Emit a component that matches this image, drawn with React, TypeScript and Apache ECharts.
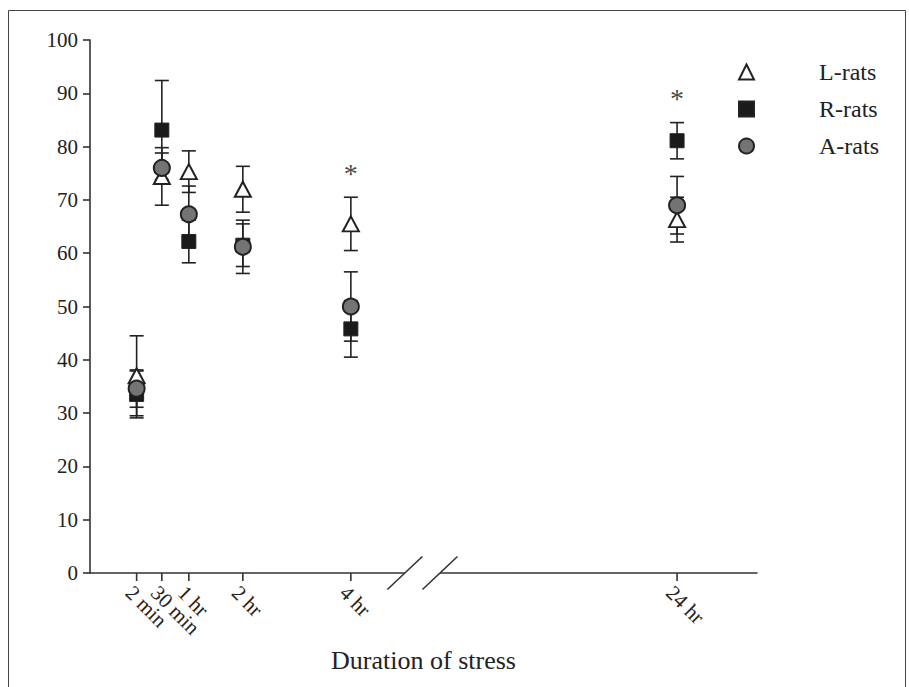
import React, { useEffect, useRef } from "react";
import * as echarts from "echarts";

// ---- data ----
const timeLabels = ["2 min", "30 min", "1 hr", "2 hr", "4 hr", "24 hr"];
const hours = [2 / 60, 0.5, 1, 2, 4, 24];

const lMean = [37, 74.4, 75.3, 72, 65.5, 66.3];
const lErr = [7.5, 5.4, 3.9, 4.3, 5, 4.2];
const rMean = [33.5, 83.1, 62.2, 61.5, 45.8, 81.1];
const rErr = [4.4, 9.3, 4, 4, 5.3, 3.4];
const aMean = [34.6, 76, 67.3, 61.2, 50, 69];
const aErr = [3.5, 2.8, 5.3, 5, 6.5, 5.4];

// significance markers (index into hours, height)
const sigIndex = [4, 5];
const sigHeight = [75, 89];

const yTicks = { min: 0, max: 100, interval: 10 };

// broken axis: time after the break is compressed
const BREAK_AT = 4;
const COMPRESS = 0.302;
const pos = (h: number) => (h <= BREAK_AT ? h : BREAK_AT + (h - BREAK_AT) * COMPRESS);
const GAP_START = 5.0;
const GAP_END = 5.65;

const FONT = "'Liberation Serif', 'Times New Roman', serif";
const INK = "#222";

function errSeries(name: string, mean: number[], err: number[]) {
  return {
    name: name + " err",
    type: "custom",
    z: 2,
    silent: true,
    data: hours.map((h, i) => [pos(h), mean[i], err[i]]),
    renderItem: (params: any, api: any) => {
      const x = api.value(0);
      const y = api.value(1);
      const e = api.value(2);
      const top = api.coord([x, y + e]);
      const bot = api.coord([x, y - e]);
      const hw = 7;
      const style = { stroke: INK, lineWidth: 1.6 };
      return {
        type: "group",
        children: [
          { type: "line", shape: { x1: top[0], y1: top[1], x2: bot[0], y2: bot[1] }, style },
          { type: "line", shape: { x1: top[0] - hw, y1: top[1], x2: top[0] + hw, y2: top[1] }, style },
          { type: "line", shape: { x1: bot[0] - hw, y1: bot[1], x2: bot[0] + hw, y2: bot[1] }, style },
        ],
      };
    },
  };
}

export default function App() {
  const ref = useRef<HTMLDivElement>(null);
  useEffect(() => {
    if (!ref.current) return;
    const chart = echarts.init(ref.current, null, { renderer: "svg" });
    const tickVals = hours.map(pos);
    chart.setOption({
      animation: false,
      backgroundColor: "#fff",
      textStyle: { fontFamily: FONT, color: INK },
      grid: { left: 90, right: 152, top: 40, bottom: 114 },
      legend: {
        orient: "vertical",
        left: 738,
        top: 60,
        padding: 0,
        itemWidth: 15,
        itemHeight: 15,
        itemGap: 13,
        data: ["L-rats", "R-rats", "A-rats"],
        textStyle: { fontFamily: FONT, fontSize: 24, color: INK, padding: [0, 0, 0, 60] },
      },
      xAxis: {
        type: "value",
        min: -0.83,
        max: 11.52,
        splitLine: { show: false },
        axisLine: { show: true, onZero: false, lineStyle: { color: "#333", width: 1.6 } },
        axisTick: { show: false },
        axisLabel: { show: false },
        name: "Duration of stress",
        nameLocation: "middle",
        nameGap: 74,
        nameTextStyle: { fontFamily: FONT, fontSize: 26, color: INK },
      },
      yAxis: {
        type: "value",
        min: yTicks.min,
        max: yTicks.max,
        interval: yTicks.interval,
        splitLine: { show: false },
        axisLine: { show: true, onZero: false, lineStyle: { color: "#333", width: 1.6 } },
        axisTick: { show: true, length: 7, lineStyle: { color: "#333", width: 1.6 } },
        axisLabel: { margin: 12, fontFamily: FONT, fontSize: 21, color: INK, showMinLabel: true, showMaxLabel: true },
      },
      series: [
        errSeries("L-rats", lMean, lErr),
        errSeries("R-rats", rMean, rErr),
        errSeries("A-rats", aMean, aErr),
        {
          name: "L-rats",
          type: "scatter",
          z: 3,
          symbol: "triangle",
          symbolSize: [16, 15],
          itemStyle: { color: "#fff", borderColor: INK, borderWidth: 2, opacity: 1 },
          data: hours.map((h, i) => [pos(h), lMean[i]]),
        },
        {
          name: "R-rats",
          type: "scatter",
          z: 4,
          symbol: "rect",
          symbolSize: 14,
          itemStyle: { color: "#1a1a1a", borderColor: INK, borderWidth: 1, opacity: 1 },
          data: hours.map((h, i) => [pos(h), rMean[i]]),
        },
        {
          name: "A-rats",
          type: "scatter",
          z: 5,
          symbol: "circle",
          symbolSize: 16,
          itemStyle: { color: "#747474", borderColor: INK, borderWidth: 2, opacity: 1 },
          data: hours.map((h, i) => [pos(h), aMean[i]]),
        },
        {
          name: "sig",
          type: "scatter",
          z: 6,
          symbolSize: 0,
          silent: true,
          label: {
            show: true,
            position: "inside",
            formatter: "*",
            fontFamily: FONT,
            fontSize: 28,
            color: "#111",
          },
          data: sigIndex.map((idx, i) => [pos(hours[idx]), sigHeight[i]]),
        },
      ],
    });

    // x ticks + rotated labels, axis-break decoration and outer frame
    const toX = (v: number) => chart.convertToPixel({ xAxisIndex: 0 }, v) as number;
    const x1 = toX(GAP_START);
    const x2 = toX(GAP_END);
    const y0 = chart.convertToPixel({ yAxisIndex: 0 }, 0) as number;
    const dx = 17.5;
    const dy = 16.5;
    const slash = (cx: number) => ({
      type: "line",
      z: 100,
      shape: { x1: cx - dx, y1: y0 + dy, x2: cx + dx, y2: y0 - dy },
      style: { stroke: "#333", lineWidth: 1.6 },
    });
    const tickEls: any[] = [];
    tickVals.forEach((v, i) => {
      const tx = toX(v);
      tickEls.push({
        type: "line",
        z: 50,
        shape: { x1: tx, y1: y0, x2: tx, y2: y0 + 8 },
        style: { stroke: "#333", lineWidth: 1.6 },
      });
      tickEls.push({
        type: "text",
        z: 50,
        x: tx,
        y: y0 + 9,
        rotation: -Math.PI / 4,
        style: {
          text: timeLabels[i],
          x: 0,
          y: 0,
          align: "left",
          verticalAlign: "top",
          fontFamily: FONT,
          fontSize: 21,
          fill: INK,
        },
      });
    });
    chart.setOption({
      graphic: [
        ...tickEls,
        {
          type: "rect",
          z: 99,
          shape: { x: x1, y: y0 - 3, width: x2 - x1, height: 6 },
          style: { fill: "#fff" },
        },
        slash(x1),
        slash(x2),
        {
          type: "rect",
          z: 0,
          silent: true,
          shape: { x: 8.5, y: 10.5, width: 897, height: 700 },
          style: { fill: "none", stroke: "#444", lineWidth: 1 },
        },
      ],
    });
    return () => chart.dispose();
  }, []);
  return (
    <div
      ref={ref}
      style={{ position: "absolute", left: 0, top: 0, width: 909, height: 687 }}
    />
  );
}
